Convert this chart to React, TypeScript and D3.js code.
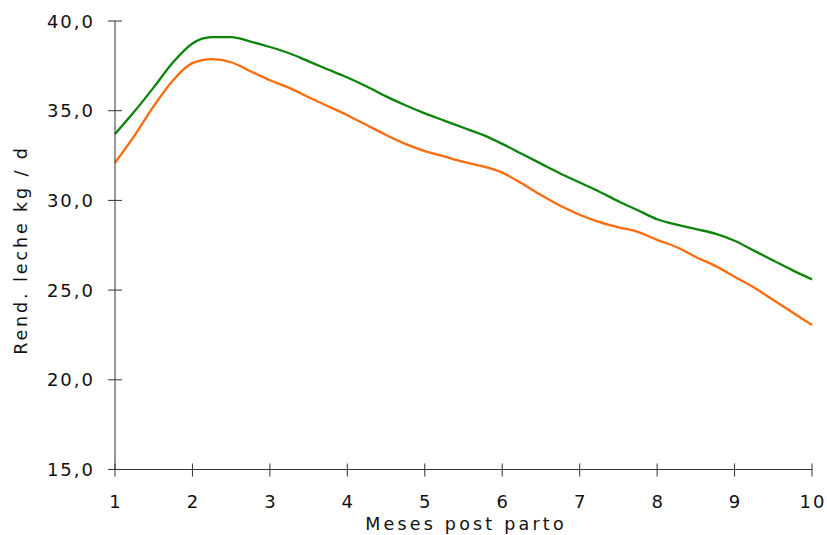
import React from "react";
import * as d3 from "d3";

const months = [1.0,1.25,1.5,1.75,2.0,2.25,2.5,2.75,3.0,3.25,3.5,3.75,4.0,4.25,4.5,4.75,5.0,5.25,5.5,5.75,6.0,6.25,6.5,6.75,7.0,7.25,7.5,7.75,8.0,8.25,8.5,8.75,9.0,9.25,9.5,9.75,10.0];
const greenSeries = [33.7,34.95,36.3,37.7,38.75,39.1,39.1,38.85,38.55,38.2,37.75,37.3,36.85,36.35,35.8,35.3,34.85,34.45,34.05,33.65,33.15,32.6,32.05,31.5,31.0,30.5,29.95,29.45,28.95,28.65,28.4,28.15,27.75,27.2,26.65,26.1,25.6];
const orangeSeries = [32.1,33.6,35.25,36.7,37.65,37.87,37.7,37.2,36.7,36.27,35.75,35.25,34.75,34.2,33.65,33.15,32.75,32.45,32.15,31.9,31.55,30.95,30.3,29.7,29.2,28.8,28.5,28.25,27.8,27.4,26.85,26.35,25.75,25.15,24.45,23.75,23.05];
const xTicks = [1,2,3,4,5,6,7,8,9,10];
const yTicks = [15,20,25,30,35,40];
const xTitle = "Meses post parto";
const yTitle = "Rend. leche kg / d";

export default function App() {
  const W = 827, H = 535;
  const x = d3.scaleLinear().domain([1, 10]).range([115, 812]);
  const y = d3.scaleLinear().domain([15, 40]).range([469.5, 21]);
  const line = d3.line<number>()
    .x((_, i) => x(months[i]))
    .y((d) => y(d))
    .curve(d3.curveMonotoneX);
  const font = "'DejaVu Sans', Verdana, sans-serif";
  const fmt = (v: number) => v.toFixed(1).replace(".", ",");
  return (
    <svg width={W} height={H} style={{ position: "absolute", left: 0, top: 0 }}>
      <rect width={W} height={H} fill="#fff" />
      <path d={line(greenSeries) || ""} fill="none" stroke="#0b8409" strokeWidth={2.3} />
      <path d={line(orangeSeries) || ""} fill="none" stroke="#ff6a0a" strokeWidth={2.3} />
      <line x1={x(1)} x2={x(1)} y1={y(40)} y2={y(15)} stroke="#333" strokeWidth={1} />
      <line x1={x(1)} x2={x(10)} y1={y(15)} y2={y(15)} stroke="#333" strokeWidth={1} />
      {yTicks.map((t) => (
        <g key={"y" + t}>
          <line x1={x(1) - 7} x2={x(1) + 7} y1={y(t)} y2={y(t)} stroke="#333" strokeWidth={1} />
          <text x={x(1) - 20} y={y(t) + 6.5} textAnchor="end" fontFamily={font} fontSize={18} letterSpacing={2} fill="#111">{fmt(t)}</text>
        </g>
      ))}
      {xTicks.map((t) => (
        <g key={"x" + t}>
          <line x1={x(t)} x2={x(t)} y1={y(15) - 6} y2={y(15) + 7} stroke="#333" strokeWidth={1} />
          <text x={x(t) + 1} y={508} textAnchor="middle" fontFamily={font} fontSize={18} letterSpacing={2} fill="#111">{t}</text>
        </g>
      ))}
      <text x={466} y={530} textAnchor="middle" fontFamily={font} fontSize={17.5} letterSpacing={3.2} fill="#111">{xTitle}</text>
      <text transform={`translate(27,250) rotate(-90)`} textAnchor="middle" fontFamily={font} fontSize={17.5} letterSpacing={2.9} fill="#111">{yTitle}</text>
    </svg>
  );
}
